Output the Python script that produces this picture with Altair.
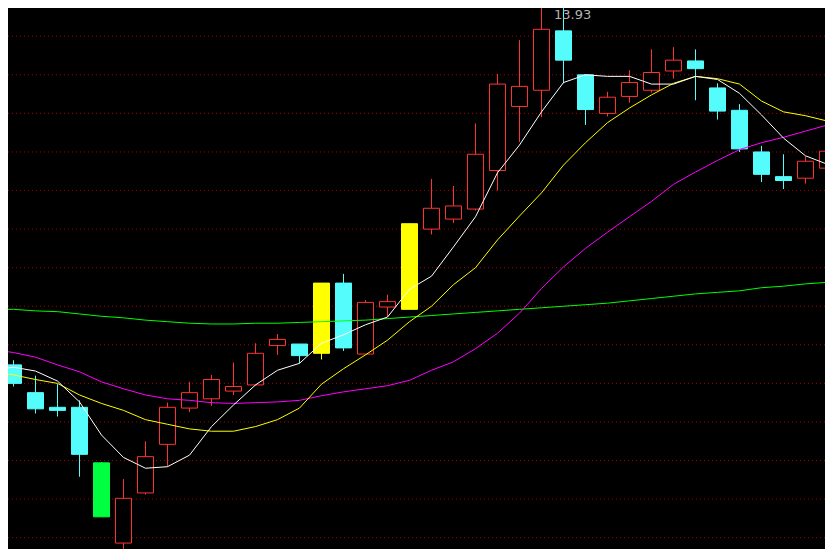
import altair as alt
import pandas as pd

# ---- daily candles (price units) ----
opens = [9.27, 8.91, 8.72, 8.72, 8.00, 6.96, 7.61, 8.24, 8.71, 8.83,
         8.93, 9.01, 9.52, 9.54, 9.42, 10.33, 9.41, 10.02, 9.99, 11.03,
         11.16, 11.29, 11.79, 12.62, 12.83, 13.60, 13.03, 12.53, 12.75, 12.83,
         13.08, 13.21, 12.86, 12.57, 12.03, 11.71, 11.69, 11.82]
highs = [9.33, 9.13, 9.02, 8.81, 8.01, 7.79, 8.28, 8.78, 9.05, 9.14,
         9.30, 9.55, 9.67, 9.54, 10.33, 10.45, 10.11, 10.18, 11.10, 11.68,
         11.59, 12.40, 13.04, 13.48, 13.93, 13.90, 13.04, 12.81, 13.09, 13.36,
         13.39, 13.36, 12.92, 12.65, 12.11, 12.00, 11.97, 12.13]
lows = [8.99, 8.64, 8.60, 7.82, 7.30, 6.79, 7.59, 7.95, 8.66, 8.74,
        8.88, 9.00, 9.40, 9.29, 9.34, 9.45, 9.41, 9.89, 9.99, 10.96,
        11.11, 11.27, 11.53, 12.16, 12.48, 12.92, 12.38, 12.49, 12.67, 12.80,
        12.98, 12.70, 12.45, 12.03, 11.64, 11.55, 11.62, 11.82]
closes = [9.03, 8.70, 8.68, 8.11, 7.30, 7.54, 8.08, 8.72, 8.91, 9.08,
          8.99, 9.42, 9.60, 9.39, 10.33, 9.49, 10.08, 10.09, 11.10, 11.30,
          11.33, 12.00, 12.91, 12.88, 13.62, 13.22, 12.58, 12.74, 12.93, 13.06,
          13.22, 13.11, 12.56, 12.07, 11.74, 11.66, 11.91, 12.04]

# ---- moving averages, index -1 .. 38 ----
ma_index = list(range(-1, 39))
ma5 = [9.20, 9.24, 9.19, 9.06, 8.79, 8.36, 8.07, 7.93, 7.95, 8.10,
       8.47, 8.75, 9.01, 9.20, 9.29, 9.55, 9.66, 9.79, 9.89, 10.25,
       10.42, 10.80, 11.19, 11.76, 12.12, 12.55, 12.93, 13.03, 13.01, 13.01,
       12.91, 12.91, 13.01, 12.97, 12.79, 12.51, 12.21, 11.98, 11.87, 11.87]
ma10 = [9.18, 9.14, 9.08, 9.03, 8.88, 8.77, 8.68, 8.56, 8.50, 8.44,
        8.41, 8.41, 8.47, 8.56, 8.71, 9.02, 9.22, 9.40, 9.59, 9.83,
        10.03, 10.31, 10.53, 10.89, 11.20, 11.50, 11.86, 12.15, 12.41, 12.60,
        12.77, 12.92, 13.01, 12.98, 12.91, 12.69, 12.55, 12.50, 12.43, 12.39]
ma20 = [9.47, 9.43, 9.37, 9.27, 9.18, 9.05, 8.96, 8.88, 8.83, 8.81,
        8.78, 8.77, 8.78, 8.79, 8.81, 8.87, 8.92, 8.96, 9.00, 9.07,
        9.20, 9.31, 9.48, 9.68, 9.94, 10.26, 10.54, 10.78, 10.99, 11.19,
        11.39, 11.61, 11.77, 11.92, 12.06, 12.15, 12.22, 12.30, 12.38, 12.42]
ma60 = [9.99, 9.99, 9.97, 9.96, 9.93, 9.90, 9.88, 9.85, 9.83, 9.81,
        9.80, 9.80, 9.81, 9.81, 9.82, 9.83, 9.84, 9.85, 9.87, 9.89,
        9.91, 9.93, 9.95, 9.97, 9.99, 10.01, 10.03, 10.05, 10.07, 10.10,
        10.13, 10.16, 10.19, 10.21, 10.23, 10.27, 10.29, 10.32, 10.34, 10.35]

grid_levels = [13.53, 13.03, 12.53, 12.03, 11.53, 11.03, 10.53, 10.03,
               9.53, 9.03, 8.53, 8.03, 7.53, 7.03]

# ---- build tables ----
BODY_HALF = 8 / 22
n = len(closes)
kinds = []
for i in range(n):
    o, c = opens[i], closes[i]
    if i > 0 and c / closes[i - 1] >= 1.095:
        kinds.append("limit_up")
    elif i > 0 and c / closes[i - 1] <= 0.905:
        kinds.append("limit_down")
    elif c > o:
        kinds.append("up")
    else:
        kinds.append("down")

candles = pd.DataFrame({
    "i": list(range(n)),
    "left": [i - BODY_HALF for i in range(n)],
    "right": [i + BODY_HALF for i in range(n)],
    "open": opens, "high": highs, "low": lows, "close": closes,
    "kind": kinds,
})

imax = max(range(n), key=lambda k: highs[k])
label_df = pd.DataFrame({"i": [imax], "high": [highs[imax]],
                         "label": [f"{highs[imax]:.2f}"]})
grid_df = pd.DataFrame({"level": grid_levels})

W, H = 817, 541
xscale = alt.Scale(domain=[-0.25, 36.886], nice=False, zero=False)
yscale = alt.Scale(domain=[6.8831, 13.8963], nice=False, zero=False)

kind_domain = ["up", "down", "limit_up", "limit_down"]
stroke_scale = alt.Scale(domain=kind_domain,
                         range=["#ff3232", "#54fcfc", "#ffff00", "#00ff40"])
fill_scale = alt.Scale(domain=kind_domain,
                       range=["#000000", "#54fcfc", "#ffff00", "#00ff40"])

grid = alt.Chart(grid_df).mark_rule(
    color="#a00000", strokeDash=[1, 3], strokeWidth=1
).encode(y=alt.Y("level:Q", scale=yscale, axis=None))

wicks = alt.Chart(candles).mark_rule(strokeWidth=1, clip=True).encode(
    x=alt.X("i:Q", scale=xscale, axis=None),
    y=alt.Y("low:Q", scale=yscale, axis=None),
    y2="high:Q",
    color=alt.Color("kind:N", scale=stroke_scale, legend=None),
)

bodies = alt.Chart(candles).mark_rect(strokeWidth=1, clip=True).encode(
    x=alt.X("left:Q", scale=xscale, axis=None),
    x2="right:Q",
    y=alt.Y("open:Q", scale=yscale, axis=None),
    y2="close:Q",
    fill=alt.Fill("kind:N", scale=fill_scale, legend=None),
    stroke=alt.Stroke("kind:N", scale=stroke_scale, legend=None),
)

lines = []
for vals, col in [(ma60, "#00ff00"), (ma20, "#ff00ff"),
                  (ma10, "#ffff00"), (ma5, "#ffffff")]:
    df = pd.DataFrame({"i": ma_index, "v": vals})
    lines.append(
        alt.Chart(df).mark_line(color=col, strokeWidth=1, clip=True).encode(
            x=alt.X("i:Q", scale=xscale, axis=None),
            y=alt.Y("v:Q", scale=yscale, axis=None),
        )
    )

label = alt.Chart(label_df).mark_text(
    align="left", baseline="middle", dx=12.5, dy=10,
    fontSize=13, font="DejaVu Sans", color="#b4b4b4"
).encode(
    x=alt.X("i:Q", scale=xscale, axis=None),
    y=alt.Y("high:Q", scale=yscale, axis=None),
    text="label:N",
)

chart = alt.layer(grid, wicks, bodies, *lines, label).properties(
    width=W, height=H, padding=0, background="#000000",
    autosize=alt.AutoSizeParams(type="none"),
).configure_view(stroke=None)

chart.save("out.html", embed_options={"renderer": "svg", "actions": False})
